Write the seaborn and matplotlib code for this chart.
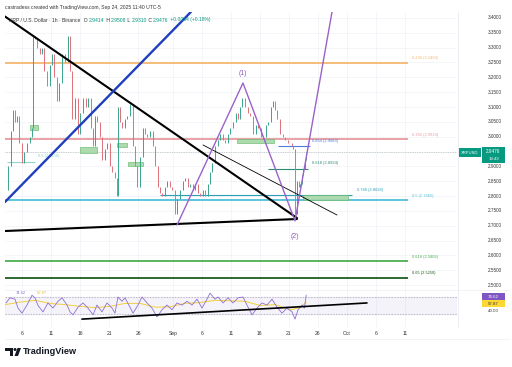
import numpy as np
import matplotlib
matplotlib.use("Agg")
import matplotlib.pyplot as plt
import seaborn as sns
from matplotlib.patches import Rectangle, Polygon, Circle

# ------------------------------------------------------------------ data
# time in days since 2025-08-01 00:00, XRP/USD 1h (sampled)
day_offsets = [2.07, 2.59, 3.10, 3.45, 3.79, 4.14, 4.48, 5.00, 5.34, 5.86,
               6.38, 6.72, 6.90, 7.24, 7.59, 8.10, 8.45, 8.79, 9.31, 9.83,
               10.17, 10.52, 11.03, 11.38, 11.90, 12.41, 12.93, 13.28, 13.62, 14.14,
               14.66, 15.00, 15.52, 16.03, 16.38, 16.90, 17.24, 17.59, 17.93, 18.45,
               18.79, 19.31, 19.66, 20.17, 20.52, 21.03, 21.38, 21.55, 21.90, 22.24,
               22.76, 23.10, 23.62, 24.14, 24.48, 24.83, 25.34, 25.86, 26.21, 26.55,
               27.07, 27.59, 27.93, 28.45, 28.79, 29.14, 29.66, 30.00, 30.52, 30.86,
               31.38, 31.72, 32.24, 32.76, 33.10, 33.62, 33.97, 34.48, 34.83, 35.34,
               35.69, 36.21, 36.55, 37.07, 37.41, 37.76, 38.28, 38.79, 39.14, 39.66,
               40.00, 40.52, 40.86, 41.38, 41.90, 42.24, 42.59, 42.93, 43.45, 43.97,
               44.31, 44.83, 45.34, 45.69, 46.21, 46.55, 47.07, 47.41, 47.93, 48.28,
               48.62, 48.97, 49.48, 50.00, 50.34, 50.86, 51.21, 51.55, 51.72, 52.07,
               52.41, 52.76, 52.93, 53.28, 53.45, 53.79, 53.97]
closes = [2.82, 2.90, 3.02, 3.09, 3.05, 3.07, 2.98, 2.91, 2.95, 2.98,
          3.00, 3.03, 3.34, 3.33, 3.30, 3.28, 3.30, 3.22, 3.17, 3.24,
          3.28, 3.20, 3.12, 3.18, 3.28, 3.25, 3.34, 3.22, 3.06, 3.13,
          3.01, 3.08, 3.13, 3.10, 3.13, 3.03, 2.97, 3.07, 3.05, 3.00,
          2.92, 2.96, 2.98, 2.90, 2.88, 2.86, 2.80, 3.10, 3.05, 3.03,
          3.06, 3.07, 3.11, 2.97, 2.90, 2.83, 2.93, 3.03, 3.01, 3.00,
          3.02, 2.97, 2.90, 2.83, 2.81, 2.80, 2.83, 2.85, 2.83, 2.82,
          2.74, 2.79, 2.82, 2.85, 2.86, 2.83, 2.84, 2.82, 2.84, 2.81,
          2.80, 2.82, 2.80, 2.84, 2.88, 2.91, 2.97, 2.99, 3.01, 2.99,
          2.98, 3.01, 3.03, 3.05, 3.08, 3.06, 3.10, 3.13, 3.10, 3.08,
          3.07, 3.01, 3.04, 3.03, 3.00, 3.00, 3.04, 3.05, 3.10, 3.12,
          3.09, 3.06, 3.01, 3.00, 2.99, 2.98, 2.98, 2.97, 2.96, 2.74,
          2.85, 2.83, 2.84, 2.87, 2.89, 2.92, 2.9476]

rsi_days = [2.24, 2.93, 3.79, 4.31, 5.00, 5.86, 6.72, 7.24, 7.76, 8.62,
            9.48, 10.34, 11.21, 11.90, 12.76, 13.28, 13.79, 14.66, 15.52, 16.38,
            17.24, 17.93, 18.79, 19.66, 20.52, 21.03, 21.55, 22.24, 22.76, 23.62,
            24.14, 25.00, 25.69, 26.55, 27.41, 28.28, 29.14, 30.00, 30.86, 31.72,
            32.59, 33.45, 34.31, 35.17, 36.03, 36.90, 37.41, 38.28, 38.79, 39.66,
            40.52, 41.38, 42.24, 43.10, 43.79, 44.66, 45.52, 46.38, 47.24, 48.10,
            48.97, 49.83, 50.69, 51.55, 52.07, 52.59, 53.30, 53.70, 54.00]
rsi_values = [56, 68, 65, 44, 32, 51, 74, 68, 50, 35,
              56, 44, 60, 68, 51, 35, 28, 46, 56, 44,
              28, 51, 35, 56, 44, 32, 70, 60, 68, 46,
              32, 51, 70, 56, 44, 23, 40, 51, 40, 56,
              51, 60, 51, 65, 44, 65, 79, 65, 70, 56,
              68, 56, 68, 70, 51, 28, 44, 56, 51, 65,
              46, 32, 44, 35, 18, 40, 51, 44, 74.62]
rsi_ma_days = [2.07, 4.66, 7.24, 9.83, 12.41, 15.00, 17.59, 20.17, 22.76, 25.34, 27.93,
               30.52, 33.10, 35.69, 38.28, 40.86, 43.45, 46.03, 48.62, 51.21, 52.93, 54.00]
rsi_ma_values = [52, 58, 62, 55, 52, 48, 45, 48, 55, 55, 46,
                 47, 55, 57, 62, 61, 60, 50, 52, 40, 45, 57.87]

price_ticks = [3.40, 3.35, 3.30, 3.25, 3.20, 3.15, 3.10, 3.05, 3.00,
               2.90, 2.85, 2.80, 2.75, 2.70, 2.65, 2.60, 2.55, 2.50]
date_tick_days = [5, 10, 15, 20, 25, 31, 36, 41, 46, 51, 56, 61, 66, 71]
date_tick_labels = ["6", "11", "16", "21", "26", "Sep", "6", "11", "16", "21", "26", "Oct", "6", "11"]

fib_labels = ["0.236 (3.2493)", "0.382 (2.9919)", "0.5 (2.7865)", "0.618 (2.5808)", "0.65 (2.5250)"]
fib_prices = [3.2493, 2.9919, 2.7865, 2.5808, 2.5250]
fib_colors = ["#f5b871", "#e99a9f", "#4fc0d8", "#4caf50", "#1b5e20"]

short_fib_labels = ["0.854 (2.9683)", "0.618 (2.8924)", "0.786 (2.8028)", "0.5 (2.9158)"]
short_fib_prices = [2.9683, 2.8924, 2.8028, 2.9158]
short_fib_start = [49.14, 47.41, 28.80, 2.40]
short_fib_end = [54.66, 54.30, 61.90, 7.24]
short_fib_label_day = [55.0, 55.0, 62.8, 7.7]
short_fib_colors = ["#4a7fe0", "#2e8b7a", "#2aa1b8", "#8fd3cc"]

zone_start = [6.38, 15.00, 21.38, 23.28, 42.07, 53.45]
zone_end = [7.76, 17.93, 23.10, 25.86, 48.45, 61.21]
zone_low = [3.022, 2.945, 2.965, 2.901, 2.979, 2.787]
zone_high = [3.039, 2.965, 2.979, 2.915, 2.992, 2.803]

# drawing anchors (day, price)
down_line = [(2.07, 3.405), (52.41, 2.726)]
base_line = [(2.07, 2.682), (52.41, 2.7225)]
blue_line = [(2.07, 2.780), (34.10, 3.420)]
thin_line = [(36.21, 2.972), (59.31, 2.736)]
wave_days = [31.72, 43.10, 52.07, 58.72]
wave_prices = [2.702, 3.181, 2.716, 3.450]
rsi_trend = [(15.34, 18.0), (64.48, 56.0)]

last_price = 2.9476

# ------------------------------------------------------------------ figure
sns.set_theme(style="white")
plt.rcParams["font.family"] = ["Liberation Sans", "DejaVu Sans"]
W, H = 512, 367
fig = plt.figure(figsize=(W / 100, H / 100), dpi=100)
fig.patch.set_facecolor("white")

XL = (2.069, 80.0)
axp = fig.add_axes([5 / W, 1 - 289 / H, 452 / W, 277 / H])
axr = fig.add_axes([5 / W, 1 - 328 / H, 452 / W, 39 / H])
for a in (axp, axr):
    a.set_xlim(*XL)
    a.set_facecolor("white")
    for s in a.spines.values():
        s.set_visible(False)
    a.set_xticks([])
    a.set_yticks([])
axp.set_ylim(2.4866, 3.4202)
axr.set_ylim(-2.9, 88.8)

grid_c = "#f0f2f6"
for d in date_tick_days:
    axp.axvline(d, color=grid_c, lw=0.5, zorder=0)
    axr.axvline(d, color=grid_c, lw=0.5, zorder=0)
for p in price_ticks + [2.95]:
    axp.axhline(p, color=grid_c, lw=0.5, zorder=0)

# fib horizontal levels
for lab, p, c in zip(fib_labels, fib_prices, fib_colors):
    axp.hlines(p, XL[0], 71.55, color=c, lw=1.3, zorder=2)
    axp.text(72.3, p + 0.008, lab, color=c, fontsize=2.9, ha="left", va="bottom", zorder=6)

# short fib levels
for lab, p, s, e, ld, c in zip(short_fib_labels, short_fib_prices, short_fib_start,
                               short_fib_end, short_fib_label_day, short_fib_colors):
    axp.hlines(p, s, e, color=c, lw=0.8, zorder=3)
    axp.text(ld, p + 0.012, lab, color=c, fontsize=2.9, ha="left", va="bottom", zorder=6)

# zones
for s, e, lo, hi in zip(zone_start, zone_end, zone_low, zone_high):
    axp.add_patch(Rectangle((s, lo), e - s, hi - lo, facecolor="#a5d6a7",
                            edgecolor="#66bb6a", lw=0.5, alpha=0.9, zorder=4))

# current price line
axp.axhline(last_price, color="#9fb0ad", lw=0.5, ls=(0, (1, 1.5)), zorder=1)

# candles
opens = [closes[0]] + closes[:-1]
o = np.array(opens)
c = np.array(closes)
cols = np.where(c >= o, "#3aa58c", "#e0707a")
axp.vlines(day_offsets, np.minimum(o, c), np.maximum(o, c), colors=cols, lw=0.7, zorder=5)
axp.bar(day_offsets, c - o, bottom=o, width=0.14, color=cols, linewidth=0, zorder=5)

# trend drawings
def seg(ax, pts, **kw):
    ax.plot([pts[0][0], pts[1][0]], [pts[0][1], pts[1][1]], solid_capstyle="round", **kw)

seg(axp, down_line, color="black", lw=1.5, zorder=7)
seg(axp, base_line, color="black", lw=1.5, zorder=7)
seg(axp, blue_line, color="#1f3fbf", lw=1.7, zorder=7)
seg(axp, thin_line, color="black", lw=0.6, zorder=7)
sns.lineplot(x=wave_days, y=wave_prices, ax=axp, color="#9b62c9", lw=1.0, sort=False,
             estimator=None, zorder=7)
axp.text(43.10, 3.200, "(1)", color="#8e5bbd", fontsize=5, ha="center", va="bottom")
axp.text(52.07, 2.675, "(2)", color="#8e5bbd", fontsize=5, ha="center", va="top")
axp.set_ylim(2.4866, 3.4202)
axp.set_xlim(*XL)
axp.set_xlabel("")
axp.set_ylabel("")

# RSI pane
axr.axhspan(30, 70, color="#7e57c2", alpha=0.07, zorder=0)
axr.axhline(70, color="#a3a6ae", lw=0.5, ls=(0, (2, 2)))
axr.axhline(30, color="#a3a6ae", lw=0.5, ls=(0, (2, 2)))
sns.lineplot(x=rsi_ma_days, y=rsi_ma_values, ax=axr, color="#f2d03b", lw=0.7, estimator=None)
sns.lineplot(x=rsi_days, y=rsi_values, ax=axr, color="#8e6fd0", lw=0.6, estimator=None)
seg(axr, rsi_trend, color="black", lw=1.2, zorder=6)
axr.set_xlim(*XL)
axr.set_ylim(-2.9, 88.8)
axr.set_xlabel("")
axr.set_ylabel("")
axr.text(4.0, 80, "74.62", color="#8e6fd0", fontsize=3, va="center")
axr.text(7.5, 80, "57.87", color="#e0c030", fontsize=3, va="center")

# date labels
for d, lab in zip(date_tick_days, date_tick_labels):
    axr.text(d, -0.13, lab, transform=axr.get_xaxis_transform(), fontsize=3.6,
             color="#333333", ha="center", va="center")

# overlay in pixel coordinates for decorations
ov = fig.add_axes([0, 0, 1, 1], zorder=20)
ov.set_xlim(0, W)
ov.set_ylim(H, 0)
ov.axis("off")
ov.patch.set_alpha(0)

# pane separators / price scale border
ov.plot([457.5, 457.5], [12, 328], color="#e6e8ee", lw=0.5)
ov.plot([5, 510], [289.5, 289.5], color="#eceef2", lw=0.5)
ov.plot([5, 510], [339, 339], color="#eceef2", lw=0.5)

# price scale labels
def py(p):
    return 289 - (p - 2.4866) / (3.4202 - 2.4866) * 277

for p in price_ticks:
    ov.text(488, py(p), f"{p:.4f}", fontsize=3.3, color="#333333", ha="left", va="center")

# last price boxes
ov.add_patch(Rectangle((459, 148), 22, 9, facecolor="#089981", edgecolor="none"))
ov.text(470, 152.6, "XRPUSD", fontsize=3.0, color="white", ha="center", va="center")
ov.add_patch(Rectangle((482, 147), 23, 16, facecolor="#089981", edgecolor="none"))
ov.text(493.5, 151.5, "2.9476", fontsize=3.3, color="white", ha="center", va="center")
ov.text(493.5, 158.5, "19:43", fontsize=3.1, color="white", ha="center", va="center")

# RSI scale labels
ov.add_patch(Rectangle((482, 293), 23, 7, facecolor="#7e57c2", edgecolor="none"))
ov.text(493.5, 296.6, "74.62", fontsize=3.2, color="white", ha="center", va="center")
ov.add_patch(Rectangle((482, 300), 23, 7, facecolor="#fdd835", edgecolor="none"))
ov.text(493.5, 303.6, "57.87", fontsize=3.2, color="#333333", ha="center", va="center")
ov.text(493.5, 310.5, "40.00", fontsize=3.2, color="#333333", ha="center", va="center")

# header
ov.text(5, 7, "castradess created with TradingView.com, Sep 24, 2025 11:40 UTC-5",
        fontsize=3.6, color="#333333", ha="left", va="center")
fig.canvas.draw()
renderer = fig.canvas.get_renderer()
segs = [("XRP / U.S. Dollar · 1h · Binance", "#333333"), ("  O", "#333333"), ("2.9414", "#089981"),
        (" H", "#333333"), ("2.9508", "#089981"), (" L", "#333333"), ("2.9310", "#089981"),
        (" C", "#333333"), ("2.9476", "#089981"), (" +0.0054 (+0.18%)", "#089981")]
x = 9.0
for s, col in segs:
    t = ov.text(x, 20, s, fontsize=3.6, color=col, ha="left", va="center")
    bb = t.get_window_extent(renderer)
    x = bb.x1 + (1.0 if s.startswith(" ") or s.endswith("e") else 0.3)

# TradingView footer logo
ov.add_patch(Polygon([(5, 348), (13, 348), (13, 356), (10, 356), (10, 351), (5, 351)],
                     closed=True, facecolor="#131722", edgecolor="none"))
ov.add_patch(Circle((15, 349.5), 1.5, facecolor="#131722", edgecolor="none"))
ov.add_patch(Polygon([(17.5, 348), (21, 348), (18, 356), (14.5, 356)],
                     closed=True, facecolor="#131722", edgecolor="none"))
ov.text(23, 352, "TradingView", fontsize=6.6, fontweight="bold", color="#131722",
        ha="left", va="center")

fig.savefig("out.png", dpi=100, facecolor="white")
